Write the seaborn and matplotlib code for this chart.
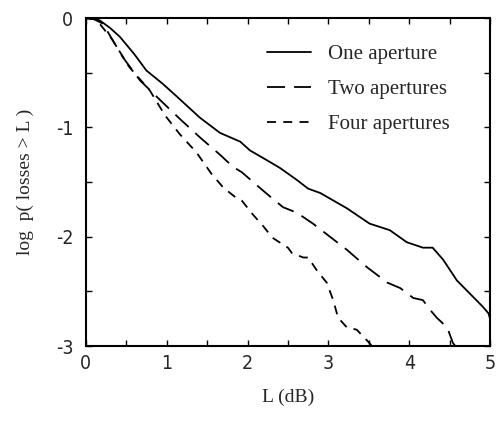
import numpy as np
import pandas as pd
import matplotlib
matplotlib.use("Agg")
import matplotlib.pyplot as plt
import seaborn as sns
from matplotlib.lines import Line2D
from matplotlib.ticker import MultipleLocator

one_x = [0, 0.1, 0.17, 0.3, 0.42, 0.6, 0.75, 0.95, 1.13, 1.41, 1.66, 1.91, 2.03, 2.24, 2.40, 2.61, 2.75,
         2.90, 3.23, 3.51, 3.76, 3.97, 4.17, 4.29, 4.42, 4.59, 4.75, 4.91, 4.98, 5.0]
one_y = [0, -0.005, -0.02, -0.09, -0.17, -0.33, -0.48, -0.60, -0.72, -0.91, -1.05, -1.13, -1.21, -1.30,
         -1.37, -1.48, -1.56, -1.60, -1.74, -1.88, -1.94, -2.05, -2.10, -2.10, -2.21, -2.40, -2.52,
         -2.64, -2.70, -2.75]
two_x = [0, 0.1, 0.21, 0.46, 0.67, 0.92, 1.16, 1.41, 1.66, 1.82, 1.93, 2.07, 2.18, 2.34, 2.44, 2.61,
         2.81, 3.02, 3.23, 3.48, 3.73, 3.89, 4.05, 4.17, 4.26, 4.34, 4.47, 4.54, 4.57]
two_y = [0, -0.01, -0.05, -0.36, -0.57, -0.75, -0.92, -1.09, -1.25, -1.36, -1.41, -1.50, -1.57, -1.67,
         -1.73, -1.78, -1.88, -2.00, -2.12, -2.28, -2.42, -2.47, -2.56, -2.58, -2.67, -2.74, -2.83,
         -2.97, -3.0]
four_x = [0, 0.1, 0.17, 0.33, 0.54, 0.79, 0.98, 1.16, 1.37, 1.55, 1.70, 1.87, 1.93, 2.07, 2.18, 2.31,
          2.50, 2.55, 2.69, 2.75, 2.86, 2.98, 3.06, 3.12, 3.23, 3.35, 3.48, 3.54]
four_y = [0, -0.01, -0.05, -0.20, -0.45, -0.66, -0.89, -1.06, -1.23, -1.42, -1.55, -1.65, -1.67, -1.80,
          -1.89, -2.01, -2.10, -2.15, -2.19, -2.19, -2.31, -2.42, -2.58, -2.74, -2.83, -2.85, -2.95, -3.0]

series_names = ["One aperture", "Two apertures", "Four apertures"]
x_ticks = [0, 1, 2, 3, 4, 5]
y_ticks = [-3, -2, -1, 0]

df = pd.concat([
    pd.DataFrame({"L": one_x, "logp": one_y, "series": series_names[0]}),
    pd.DataFrame({"L": two_x, "logp": two_y, "series": series_names[1]}),
    pd.DataFrame({"L": four_x, "logp": four_y, "series": series_names[2]}),
], ignore_index=True)

sns.set_style("ticks")
plt.rcParams["axes.unicode_minus"] = False

dash_map = {
    series_names[0]: "",
    series_names[1]: (10, 5),
    series_names[2]: (5, 4),
}

fig = plt.figure(figsize=(4.96, 4.21), dpi=100)
ax = fig.add_axes([0.173, 0.178, 0.815, 0.779])
sns.lineplot(data=df, x="L", y="logp", style="series", dashes=dash_map, color="black",
             linewidth=1.3, sort=False, estimator=None, ax=ax, legend=False)

ax.set_xlim(0, 5)
ax.set_ylim(-3, 0)
ax.set_xticks(x_ticks)
ax.set_yticks(y_ticks)
ax.set_xticklabels([str(t) for t in x_ticks])
ax.set_yticklabels([str(t) for t in y_ticks])
ax.xaxis.set_minor_locator(MultipleLocator(0.5))
ax.yaxis.set_minor_locator(MultipleLocator(0.5))
ax.tick_params(which="both", direction="in", top=True, right=True, length=4, width=1, color="black")
ax.tick_params(axis="x", which="major", pad=6)
ax.tick_params(axis="y", which="major", pad=9)
for s in ax.spines.values():
    s.set_linewidth(1.5)
    s.set_color("black")

for lab in ax.get_xticklabels() + ax.get_yticklabels():
    lab.set_fontfamily("DejaVu Sans")
    lab.set_fontstretch("condensed")
    lab.set_fontsize(14)

ax.set_xlabel("L (dB)", fontfamily="Liberation Serif", fontsize=14, labelpad=11)
ax.set_ylabel("log  p( losses > L )", fontfamily="Liberation Serif", fontsize=14, labelpad=16)

handles = [
    Line2D([], [], color="black", lw=1.3, linestyle="-"),
    Line2D([], [], color="black", lw=1.3, linestyle=(0, (10, 5))),
    Line2D([], [], color="black", lw=1.3, linestyle=(0, (5, 4))),
]
leg = ax.legend(handles, series_names, loc="upper left", frameon=False,
                prop={"family": "Liberation Serif", "size": 15},
                handlelength=2.1, handletextpad=0.85, labelspacing=0.75,
                borderpad=0, borderaxespad=0,
                bbox_to_anchor=(0.448, 0.92))

fig.savefig("out.png", dpi=100)
